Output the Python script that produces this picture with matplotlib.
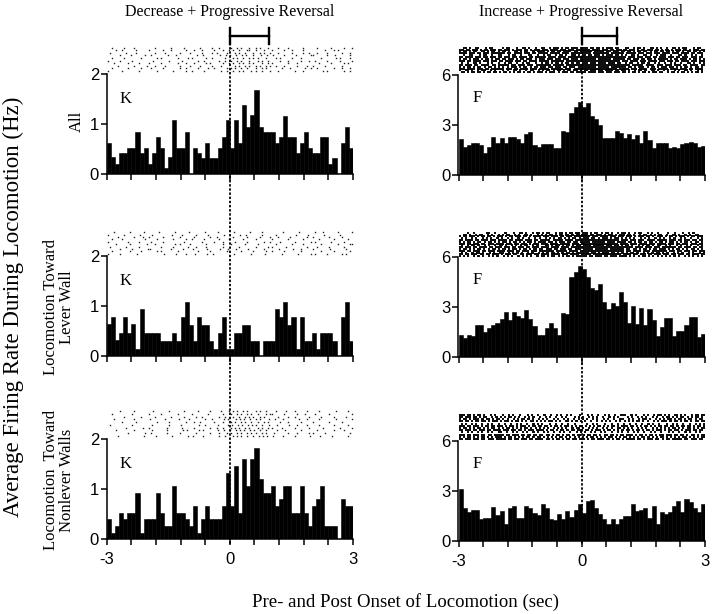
import matplotlib
matplotlib.use("Agg")
import matplotlib.pyplot as plt
import numpy as np
from matplotlib.lines import Line2D
from matplotlib.transforms import blended_transform_factory

# 0.1 s bins from -3 s to +3 s around locomotion onset
bin_starts = np.linspace(-3.0, 2.9, 60)
x_ticks = np.linspace(-3.0, 3.0, 11)
x_tick_labels = ['-3', '', '', '', '', '0', '', '', '', '', '3']

column_titles = ['Decrease + Progressive Reversal', 'Increase + Progressive Reversal']
row_labels = ['All', 'Locomotion Toward\nLever Wall', 'Locomotion  Toward\nNonlever Walls']
cell_letters = ['K', 'F']
y_ticks_left = [0, 1, 2]
y_ticks_right = [0, 3, 6]
# end of the bracket drawn above each column (s)
bracket_end = [0.95, 0.85]

# firing rates (Hz) - cell K (left column)
rate_all_K = [0.63, 0.34, 0.21, 0.43, 0.43, 0.53, 0.53, 0.85, 0.43, 0.53,
              0.21, 0.43, 0.74, 0.53, 0.13, 0.34, 1.08, 0.53, 0.53, 0.85,
              0.00, 0.53, 0.43, 0.33, 0.63, 0.33, 0.33, 0.53, 0.74, 1.08,
              0.53, 1.08, 0.63, 1.39, 0.95, 1.19, 1.69, 0.95, 0.85, 0.85,
              0.85, 0.63, 0.74, 1.17, 0.74, 0.74, 0.43, 0.63, 0.85, 0.53,
              0.43, 0.43, 0.74, 0.74, 0.21, 0.33, 0.00, 0.63, 0.95, 0.53]
rate_lever_K = [0.65, 0.78, 0.33, 0.47, 0.78, 0.47, 0.65, 0.14, 0.95, 0.47,
                0.47, 0.47, 0.47, 0.31, 0.31, 0.31, 0.47, 0.31, 0.78, 1.08,
                0.63, 0.31, 0.78, 0.63, 0.63, 0.31, 0.14, 0.47, 0.78, 0.14,
                0.14, 0.47, 0.47, 0.63, 0.63, 0.31, 0.31, 0.00, 0.31, 0.31,
                0.31, 0.95, 0.78, 1.08, 0.63, 0.78, 0.14, 0.78, 0.31, 0.31,
                0.47, 0.14, 0.47, 0.47, 0.47, 0.31, 0.00, 0.78, 1.08, 0.31]
rate_nonlever_K = [0.40, 0.13, 0.27, 0.53, 0.40, 0.53, 0.53, 0.93, 0.13, 0.40,
                   0.40, 0.40, 0.93, 0.53, 0.27, 0.27, 1.07, 0.53, 0.53, 0.40,
                   0.27, 0.67, 0.13, 0.40, 0.67, 0.40, 0.40, 0.40, 0.67, 1.33,
                   0.67, 1.47, 0.53, 1.60, 1.07, 1.60, 1.83, 1.20, 0.93, 0.93,
                   1.07, 0.67, 0.80, 1.07, 1.07, 0.53, 0.53, 1.07, 0.53, 0.27,
                   0.67, 0.80, 1.07, 0.27, 0.27, 0.27, 0.00, 0.80, 0.67, 0.67]

# firing rates (Hz) - cell F (right column)
rate_all_F = [2.15, 1.70, 1.80, 1.95, 1.90, 1.80, 1.35, 1.70, 2.30, 1.95,
              2.20, 1.95, 2.30, 2.30, 2.15, 1.95, 2.45, 2.60, 1.80, 1.70,
              1.85, 1.85, 1.85, 1.60, 1.60, 2.65, 2.60, 3.75, 4.10, 4.40,
              4.10, 4.30, 3.55, 3.35, 3.00, 2.25, 2.20, 2.20, 2.65, 2.55,
              2.20, 2.45, 2.15, 2.40, 1.90, 2.65, 2.10, 1.60, 1.95, 1.95,
              1.95, 1.60, 1.70, 1.65, 1.85, 1.95, 2.00, 1.90, 1.70, 1.75]
rate_lever_F = [1.30, 1.15, 1.30, 1.25, 1.95, 1.95, 1.50, 1.75, 1.95, 2.05,
                2.30, 2.70, 2.25, 2.70, 2.45, 2.35, 2.80, 2.30, 1.85, 1.30,
                1.30, 1.75, 2.05, 1.75, 1.30, 2.65, 2.60, 4.80, 5.10, 5.45,
                5.30, 4.80, 4.15, 4.05, 4.40, 3.30, 2.90, 3.25, 3.05, 3.90,
                3.30, 2.05, 3.05, 2.00, 2.95, 1.90, 2.90, 2.25, 1.25, 1.80,
                2.35, 2.35, 1.25, 1.55, 1.55, 1.95, 2.40, 2.40, 1.20, 1.40]
rate_nonlever_F = [3.10, 2.00, 1.75, 1.85, 1.85, 1.35, 1.40, 1.40, 2.05, 1.55,
                   1.80, 1.05, 2.00, 2.10, 1.40, 1.40, 2.10, 2.00, 1.70, 1.55,
                   2.25, 2.00, 1.35, 1.25, 1.60, 1.35, 1.80, 1.45, 1.85, 2.20,
                   1.70, 2.40, 2.45, 2.00, 1.60, 1.35, 1.05, 1.35, 1.05, 1.30,
                   1.50, 1.50, 2.20, 1.80, 1.85, 2.00, 1.40, 2.10, 1.05, 1.75,
                   1.65, 1.75, 2.10, 2.40, 1.75, 2.50, 2.35, 2.00, 1.75, 2.20]

# spike rasters, one string per (compressed) row, -3 s .. +3 s left to right
raster_all_K = [
    "..x.....x....x.........x.......x.....x.......x.....x..x.....x..x.x...x..x.x...x....x....x......x......x......x.....x...x",
    "....x..x......x.....x......x...x......x...x...x.....x...x..x.x..x...xx..x...x...x.....x...x....x..........x...x.x.......",
    ".x.......x....x........x....x......x....x.....x....x.x....x...x.x..x...x..x.x..x...x......x....x..x...x....x......x...x.",
    "......x....x......x..x.......x...x.........x..x.......x..x.x..x..x.x..x...x..x..x....x.....x......xx......x...x......x.",
    "..x.....x.......x.......x.x.......x....x.x......x..x.....x...x.x..x..x.x.x...x....x.x.....x...x.........x......x.x....x.",
    "x.....x.....x.........x.......x.....x.......x..x......x..x..x..x.x...x...x.x..x.....x...x.....x...x..x.....x.....x.....x",
    "...x......x....x....x.....x.......x...x...x.....x.x.....x..x.x..x.x..x.x...x..x.x.......x...x..........x.....x.....x.x..",
    ".....x.......x.....x...x....x......x....x....x.....x...x......x.x..x.x..x.x..x.x..x...x.....x....x..x.....x.......x.....",
    "..x.......x.....x....x.....x.......x..x.....x....x..x.....x.x.x..x..x...x..x.x.......x...x......x..x..x.......x...x...x.",
    "x......x.......x........x.......x.....x..x.....x.......x..x..x..x.x...x.x..x...x...x.......x...x.........x.x.......x..x.",
]
raster_lever_K = [
    "...x.......x......x......x.......x......x.......x.....x.......x.......x.....x.........x.......x.......x...x......x......x",
    "x.......x.......x.....x.........x....x......x.....x.......x.......x..x.......x......x.........x.....x.......x.......x......",
    ".....x.......x...x..x......x.......x......x.......x..x.......x......x.....x....x...x.....x.......x..x.......x.....x.....",
    "..x....x..........x.....x.......x.....x..x.....x......x....x......x.....x.......x.......x......x.......x......x......x..",
    "x.........x....x.....x.....x.........x........x.....x...x.....x.....x.......x..x....x......x.......x.x.......x.....x....",
    "....x......x.......x...x.........x.x....x.......x.......x...x......x.....x........x.......x....x........x.......x.....xx",
    ".x.......x.....x..........x.....x......x...x....x.......x.......x.......x.....x.x......x.........x....x.....x......x....",
    "......x.....x.......xx.........x.....x....x......x.....x...x...x.....x.......x......x......x...x.....x.......x.......x...",
    "..x........x....x.......x.x.......x.........x.....x.......x......x.....x.....x..x.....x.......x.........x.....x.......x.",
    "x.....x.......x............x.....x....x...x.....x..x.........x.......x......x.......x.......x.....x.x.....x......x.x...",
]
raster_nonlever_K = [
    "......x......x........x.......x......x......x.....x....x...x.x.x..x.x...x.x..x....x....x...x.....x.....x.......x.....x..",
    "..x.........x.......x.....x.......x......x.......x......x...x..x.x..x.x..x...x.xx.....x.....x...x....x......x..........x",
    "........x.......x......x.......x.....x.....x..x.......x..x...x..x..x.x.x..x.x......x....x..x......x.....x.....x.....x...",
    "...x.........x.......x......x......x....x.......x..x.....x.x...x.x.x..x..x.x...x..x...x.......x...x.....x.......x.......x",
    ".......x......x.........x.....x.......x...x..x......x...x...x.x..x.x..x..x..x.x.....x...x.....x.....x.......x.....x.....",
    ".x..........x.........x.......x.....x........x..x.....x....x.x..x.x..x.x.x..x..x...x.....x...x....x.....x......x......x..",
    ".........x.......x..x........x......x.....x.......x..x..x...x.x.x..x.x...x.x..x.x....x.....x......x......x.......x.....x",
    "....x........x........x......x.......x.x.....x.x......x..x..x..x.x.x..x.x..x..x....x...x.......x.......x.......x....x....",
    "..........x.......x..x.......x.....x.......x......x...x...x.x..x.x..x.x.x..x.x...x......x...x.....x.x.....x...........x.",
    ".....x............x.....x.......x.......x.x....x.......x..x...x.x.x..x..x..x.x.x..x....x.....x......x....x.....x.......x..",
]

raster_all_F = [
    "..##.#..##...#.##....#.##...#..##.#..#..##..#.###.#.##.###.####.##.##.#.###.##...##..#.##.#..##.#.#..#..##.#.##...#.##..",
    "###.##.###.#.##.###.##.###.#.###.##.#.###.###.####.###.###.#######.####.###.##.###.##.###.#.##.###.##.#.##.#.###.##.#.###.##",
    "#.##.#.##..##.#.##.#.##.#..##.#.##..#.####.#.##.##.####.##.######.#####.##.###.##.##.#.##.##.#.##.##.##.#.##.#.##.##.#.#",
    "####.###.##.###.#######.##.####.###.##.#####.#####.###.##########.########.######.#####.###.###.###.####.###.####.##.###.",
    "..#..##...#.##..#..##...#.##..#...##..#..#.##..#.##.#..##.#.##.##.###.#.###.##.#.#..##.#..##.#..#.###..#...##.#..#.#..#.",
    "##.####.###.##.###.##.###.##.####.##.#####.####.####.############################.###.###.###.##.###.###.##.###.###.##.",
    "#.##.#.###.#.##.#.##.##.###.#.##.###.#.###.###.###.###.###.########.######.######.##.###.##.##.#.#####.#.##.###.#.##.#.#",
    "###.##.####.###.###.##.####.###.##.####.#####.######.###########################.###.####.###.####.###.###.##.####.###.###",
    ".#..#..##.#...#.#..#..#.##..#..#.##..#..#.##.#.##.#.##.#.##.###.###.####.###.##..#.##..#.##.#..#.#..#..#.#..#..##.#..#.#",
    "##.###.##.####.##.#####.##.###.###.#######.#####.#############################.#####.####.###.###.###.##.####.##",
    "#.#.##.#.##.#.##.#.#.#.#.###.#.##.#.##.###.##.###.##.###.#########.#####.#######.##.#.###.#.##.#.###.##.#.#.##.#.##.#.",
    "###.####.###.##.######.###.##.####.###.#####.######.###.#####################.#####.###.####.###.#####.####.###.##.####.",
    "#..##.#..#.##..#.#...#.#..##.#..#.##..#.#.##.#.##.#.##.##.#.##.###.##.####.##.##.#..#.##.#..##.#..#.#..#.#..##.#..#.#.",
    ".##.#.##.##.#.##.##.#.##.#.#.##.#.##.#.###.#.###.#.###.##.#####.####.###.###.###.##.#.##.#.##.#.##.##..#.##.#.##.#.#.##.#.",
]
raster_lever_F = [
    "....#..#.....##..#....#...#..##.#..#.##.#.##..#.##.#.##.##.###.#.##.#.##.#..#.##.#..#.##..#.#..#....#..#...#..#.#.....",
    "..##.#..#.##..#.#..#.#.##..#.#..##.#..#.#.#.##.#.##.##.#.##.###.##.###.#.##.#.###.##.#..#.##.#.#.##..#..##.#..#.#..##...",
    "#.##.###.#.##.##.#.###.#.##.###.##.#.####.###.###.##.###.########.###.####.###.###.###.#.###.##.#.###.#.##.#.###.#.##.###.",
    ".#.#..#.#..#.#.#..#.#..#.#..#.#..#..#.#..#.#.#.##.#.#.##.#.###.##.#.###.#.##.#.#.#.#..#.#.#..#.#.#..#.#..#.#..#..#.#.",
    "##.####.##.###.###.####.##.####.###.##.#####.#####.####.#####################.###.###.###.####.#####.###.##.###.##.##.",
    "#.#.##.#.##.#.##.#.#.##.#.##.#.#.##.#.####.##.#.###.##.##.#####.######.####.####.##.#.##.#.##.#.##.#.##.#.#.##.#.##.#.",
    "###.##.###.##.###.####.###.##.###.#.###.###.####.#####.###.##################.####.###.####.###.####.###.##.###.###.##.",
    ".#..#.##.#..#.#..#.##.#..#.#.#.##..#.#...##.#.##.#.##.#.##.####.#####.###.##.#.##.#..#.#.##.#.##..#.#..#.#..#.#..#.#.",
    "##.###.##.####.##.###.###.##.###.##.###.####.####.####.##############################.####.###.###.#######.##.###.##.##.",
    "#.##.#.#.##.#.#.##.#.##.#.##.#.##.#.##.##.###.##.###.##.###.#####.######.#######.##.##.#.##.#.##.###.#.#.##.#.#.##.#.#.",
    "###.##.###.##.###.####.###.##.###.###.#######.#####.####.#####################.##.####.###.#######.###.##.###.##.###",
    ".#.#..#.##.#..#.#..##..#.#.#.#..#.#..#.#.#.##.#.#.##.#.##.###.##.#.###.##.#.#.#.##.#..#.#.#.##.#.#..#.#.#..#.#..#.#",
    "##.##.###.##.##.###.#.###.##.##.###.##.####.####.###.####.#####.#############.####.##.###.##.###.###.##.###.##.###.##",
    "#.#.#..#.#.#..#.#.#..#.#.#..#.#.#.#..#.##.#.##.#.#.##.#.##.##.##.###.##.###.####.#.#.#.##.#.#.#.#.#.#.#.#..#.#.#.#.#.",
]
raster_nonlever_F = [
    "###.##.#.##.#..#.#...#..#.#..#...#.#..#..#..#..#.#..#.#...#...#.#..#..#.#..#..###..#.#...#.#..#.##.#.#..##.#.#..#.##.##",
    "##.###.##.#.##..#.#.#.#.##.#.#..#.#.#..#..#.#..#..#.#...#.#.#..#.#.#..#..#.#.#....#.#..#.#.#..#.#..#.##.#.#.##.#.#.##.#.",
    "#.##.#.###.#.##.#.##.#.#..#.#.##.#.#..#.#.#..#.#..#.#..#.#.#.#..#.#..#.#..#..##..#.#..#.##.#..#.#.#.##.#.##.#.##.#.##.",
    "##.##.#.##.##.#.###.#.##.#.##.#.#.##.#.#.#.##.#.#..##.#.#.#.#..#..#.#.#.#..#.#.#.#.#.##.#.#..#.#.###.#.##.#.##.#.##.##",
    ".#.#..#.#..#..#.#..#..#..#..#.#..#..#.#.#...#..#..#..#..#.....#..#.#...#..#..#..#..#..#..#..#.#..#...#..#.#..#..#..#.#.#",
    "###.##.###.#.##.##.###.#.##.#.###.#.##.##.##.#.##.#.##.#.#.##.#.#.#.##.#.#.##.#.###.##.#.#.##.#.#.##.##.##.#.##.##.#.##.#",
    "#.##.#.#.##.#.#.##.#.#.##.#.#.#.##.#.#.#.#.#..#.#.#.#..#.##.#..#.#.#..#.#.#..##.#.#.#..#.#.#..#.#.#.#.#.##.#.#.##.#.#.##",
    "##.###.##.###.##.####.###.##.##.#.###.####.#.##.#.##.#.##.###.##.#.###.#.##.#.#.#.##.#.##.#.##.#.###.#.##.##.#.###.##.##.",
    ".#..#.#..#.#..#.#..##..#..#.#..#.#..#.#..#.#..#..#.#..#..#.#.#..#.#..#.#..#..#.#..#..#.#..#..#.#..#...#.#..#..#.#..#.#..",
    "###.##.###.##.##.#####.##.###.##.##.##.##.##.#.##.#.##.#.##.#.##.##.#.##.##.#.##.###.#.##.#.##.#.##.###.##.##.#.##.#.##",
    "#.#.##.#.#.##.#.#.###.#.##.#.#.#.##.#.##.#.#.#.#.##.#.#.#.#.#.#.##.#.#.#.##.#.#.##.#.#.#.##.#.#.#.##.#.#.#.#.##.#.#.#.##",
    "##.###.###.##.###.#####.##.##.###.##.####.##.#.##.#.##.##.###.#.##.###.##.#.##.#.####.##.#.###.##.#.##.#####.##.###.##.",
]

W, H = 720, 614
SERIF = 'Liberation Serif'
SANS = 'Liberation Sans'


def draw_raster(ax, rows, band, dense):
    lo, hi = band
    step = (hi - lo) / len(rows)
    ys, x0s, x1s = [], [], []
    for i, row in enumerate(rows):
        y = hi - (i + 0.5) * step
        n = len(row)
        if dense:
            j = 0
            while j < n:
                if row[j] == '#':
                    k = j
                    while k < n and row[k] == '#':
                        k += 1
                    ys.append(y)
                    x0s.append(-3 + 6 * j / n)
                    x1s.append(-3 + 6 * k / n)
                    j = k
                else:
                    j += 1
        else:
            ts = [-3 + 6 * (j + 0.5) / n for j, c in enumerate(row) if c == 'x']
            ax.plot(ts, [y] * len(ts), ls='none', marker='s', ms=1.0,
                    mew=0, color='#202020')
    if dense:
        ax.hlines(ys, x0s, x1s, color='black', lw=1.35)


def draw_panel(ax, rates, raster, band, dense, yticks, ytop, letter, letter_y,
               bottom_row):
    ax.bar(bin_starts, rates, width=0.1, align='edge', color='black',
           edgecolor='black', linewidth=0.4)
    draw_raster(ax, raster, band, dense)
    ax.set_xlim(-3, 3)
    ax.set_ylim(0, ytop)
    for s in ('top', 'right'):
        ax.spines[s].set_visible(False)
    ax.spines['left'].set_bounds(0, yticks[-1])
    ax.spines['left'].set_linewidth(1.1)
    ax.spines['bottom'].set_linewidth(1.1)
    ax.set_yticks(yticks)
    ax.set_yticklabels([str(v) for v in yticks], fontfamily=SANS, fontsize=12)
    ax.set_xticks(x_ticks)
    if bottom_row:
        ax.set_xticklabels(x_tick_labels, fontfamily=SANS, fontsize=12)
    else:
        ax.set_xticklabels([''] * len(x_ticks))
    ax.tick_params(axis='both', direction='out', length=4, width=1.1,
                   colors='black')
    ax.tick_params(axis='y', pad=1.5)
    ax.tick_params(axis='x', pad=5)
    ax.text(-2.55, letter_y, letter, fontfamily=SERIF, fontsize=12,
            ha='center', va='center')


fig = plt.figure(figsize=(W / 100, H / 100), dpi=100)

# pixel layout: left/right x extents and y pixel of the zero line
col_x = [(106.7, 353.0), (458.5, 705.0)]
zero_y = [[174, 356, 539], [175, 357, 541]]
ax_h = 140

rates = [[rate_all_K, rate_lever_K, rate_nonlever_K],
         [rate_all_F, rate_lever_F, rate_nonlever_F]]
rasters = [[raster_all_K, raster_lever_K, raster_nonlever_K],
           [raster_all_F, raster_lever_F, raster_nonlever_F]]
bands = [[(2.04, 2.55), (2.02, 2.50), (2.04, 2.58)],
         [(6.1, 7.7), (6.0, 7.5), (6.05, 7.65)]]

axes = [[None] * 3, [None] * 3]
for c in range(2):
    x0, x1 = col_x[c]
    for r in range(3):
        y0 = zero_y[c][r]
        ax = fig.add_axes([x0 / W, 1 - y0 / H, (x1 - x0) / W, ax_h / H])
        if c == 0:
            draw_panel(ax, rates[c][r], rasters[c][r], bands[c][r], False,
                       y_ticks_left, 2.8, cell_letters[c], 1.5, r == 2)
        else:
            draw_panel(ax, rates[c][r], rasters[c][r], bands[c][r], True,
                       y_ticks_right, 8.4, cell_letters[c], 4.65, r == 2)
        axes[c][r] = ax

# dotted onset line and bracket spanning each column
for c in range(2):
    tr = blended_transform_factory(axes[c][0].transData, fig.transFigure)
    fig.add_artist(Line2D([0, 0], [1 - 43 / H, 1 - 544 / H], transform=tr,
                          color='black', lw=1.3, ls=(0, (1.3, 1.0))))
    fig.add_artist(Line2D([0, bracket_end[c]], [1 - 36 / H, 1 - 36 / H],
                          transform=tr, color='black', lw=1.7))
    for xb in (0, bracket_end[c]):
        fig.add_artist(Line2D([xb, xb], [1 - 28 / H, 1 - 44 / H],
                              transform=tr, color='black', lw=1.7))

# titles and labels
fig.text(230 / W, 1 - 12 / H, column_titles[0], fontfamily=SERIF,
         fontsize=11.5, ha='center', va='center')
fig.text(581 / W, 1 - 12 / H, column_titles[1], fontfamily=SERIF,
         fontsize=11.5, ha='center', va='center')
fig.text(13 / W, 1 - 307 / H, 'Average Firing Rate During Locomotion (Hz)',
         fontfamily=SERIF, fontsize=16.5, rotation=90, ha='center', va='center')
fig.text(406 / W, 1 - 602 / H, 'Pre- and Post Onset of Locomotion (sec)',
         fontfamily=SERIF, fontsize=13.5, ha='center', va='center')

row_label_pos = [(77, 121), (59, 307), (59, 480)]
for lab, (px, py) in zip(row_labels, row_label_pos):
    fig.text(px / W, 1 - py / H, lab, fontfamily=SERIF, fontsize=12,
             rotation=90, ha='center', va='center', multialignment='center',
             linespacing=1.05)

fig.savefig('out.png', dpi=100)
